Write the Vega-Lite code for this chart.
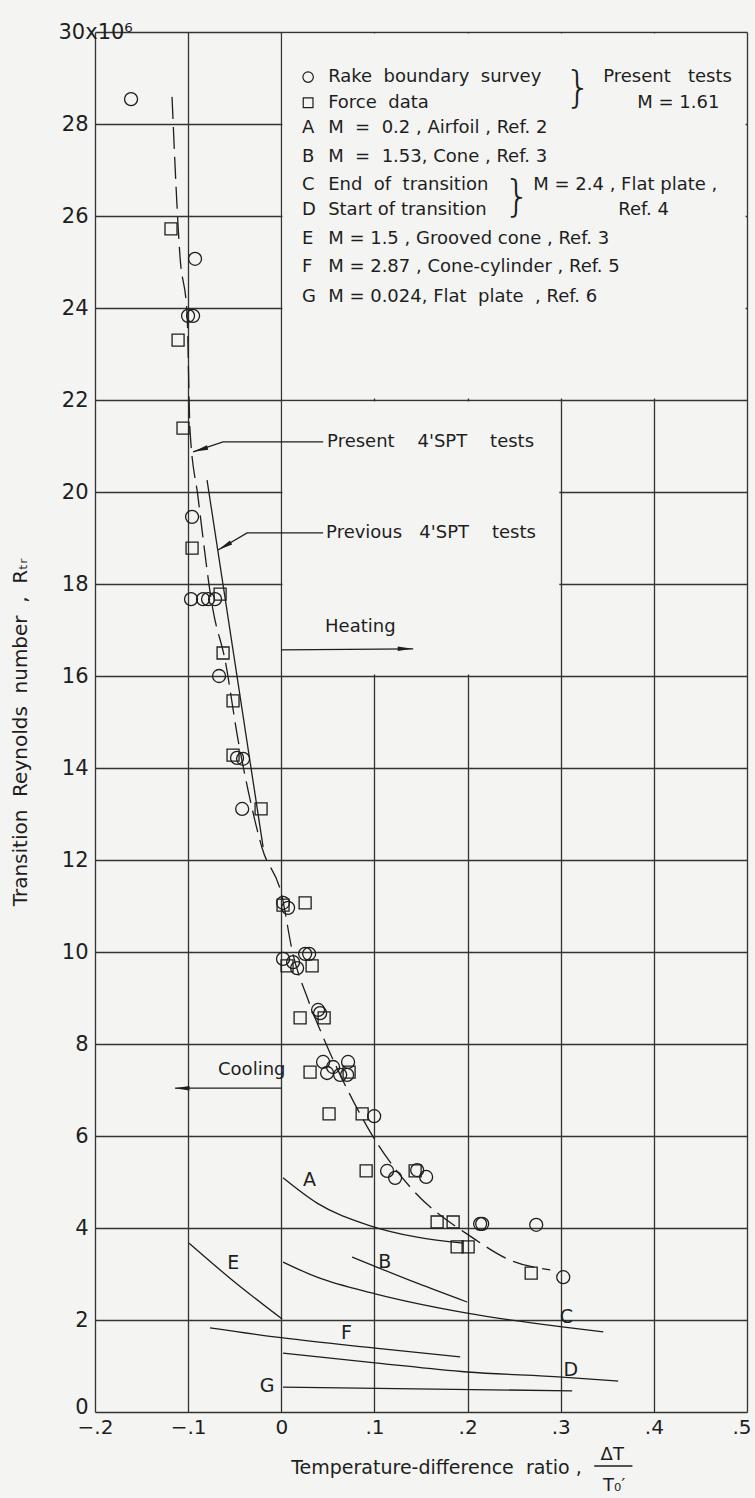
{
"$schema": "https://vega.github.io/schema/vega-lite/v6.json",
"width": 652,
"height": 1380,
"autosize": {"type": "none"},
"padding": {"left": 95, "top": 32, "right": 8, "bottom": 86},
"background": "#f4f4f2",
"config": {"view": {"stroke": null}, "font": "DejaVu Sans", "text": {"font": "DejaVu Sans", "color": "#1e1e1e"}},
"datasets": {
"masks": [
{"x": 0.0012, "x2": 0.4985, "y": 22.03, "y2": 29.97},
{"x": 0.0012, "x2": 0.2985, "y": 16.03, "y2": 21.97}
],
"curves": [
{"curve": "A", "x": 0.0019, "y": 5.09}, {"curve": "A", "x": 0.0384, "y": 4.54}, {"curve": "A", "x": 0.0922, "y": 4.07}, {"curve": "A", "x": 0.1459, "y": 3.8}, {"curve": "A", "x": 0.1953, "y": 3.67},
{"curve": "B", "x": 0.076, "y": 3.37}, {"curve": "B", "x": 0.1459, "y": 2.8}, {"curve": "B", "x": 0.1996, "y": 2.39},
{"curve": "C", "x": 0.0019, "y": 3.26}, {"curve": "C", "x": 0.0384, "y": 2.93}, {"curve": "C", "x": 0.1008, "y": 2.57}, {"curve": "C", "x": 0.1996, "y": 2.15}, {"curve": "C", "x": 0.3016, "y": 1.85}, {"curve": "C", "x": 0.3457, "y": 1.74},
{"curve": "D", "x": 0.0019, "y": 1.28}, {"curve": "D", "x": 0.1008, "y": 1.07}, {"curve": "D", "x": 0.1996, "y": 0.87}, {"curve": "D", "x": 0.3016, "y": 0.76}, {"curve": "D", "x": 0.3617, "y": 0.67},
{"curve": "E", "x": -0.099, "y": 3.67}, {"curve": "E", "x": -0.0528, "y": 2.87}, {"curve": "E", "x": 0.0009, "y": 2.02},
{"curve": "F", "x": -0.0765, "y": 1.83}, {"curve": "F", "x": 0.0019, "y": 1.61}, {"curve": "F", "x": 0.1008, "y": 1.39}, {"curve": "F", "x": 0.192, "y": 1.2},
{"curve": "G", "x": 0.0019, "y": 0.54}, {"curve": "G", "x": 0.3123, "y": 0.46}
],
"present": [
{"x": -0.1173, "y": 28.59}, {"x": -0.1087, "y": 25.11}, {"x": -0.1012, "y": 23.89}, {"x": -0.098, "y": 21.35}, {"x": -0.0894, "y": 19.89},
{"x": -0.0733, "y": 17.43}, {"x": -0.0604, "y": 16.35}, {"x": -0.0464, "y": 14.61}, {"x": -0.0357, "y": 13.52}, {"x": -0.0206, "y": 12.26},
{"x": 0.0009, "y": 11.2}, {"x": 0.0116, "y": 10.04}, {"x": 0.0288, "y": 8.96}, {"x": 0.0449, "y": 8.15}, {"x": 0.0707, "y": 7.02},
{"x": 0.1008, "y": 5.91}, {"x": 0.1384, "y": 4.89}, {"x": 0.206, "y": 3.78}, {"x": 0.2458, "y": 3.3}, {"x": 0.2887, "y": 3.09}
],
"previous": [
{"x": -0.0797, "y": 20.26}, {"x": -0.0195, "y": 12.28}
],
"leaders": [
{"id": "present", "x": -0.0947, "y": 20.87}, {"id": "present", "x": -0.0625, "y": 21.09}, {"id": "present", "x": 0.045, "y": 21.09},
{"id": "previous", "x": -0.0679, "y": 18.74}, {"id": "previous", "x": -0.0367, "y": 19.11}, {"id": "previous", "x": 0.0449, "y": 19.11},
{"id": "heating", "x": 0.0, "y": 16.57}, {"id": "heating", "x": 0.1416, "y": 16.59},
{"id": "cooling", "x": -0.114, "y": 7.04}, {"id": "cooling", "x": 0.0, "y": 7.04}
],
"squares": [
{"x": -0.1184, "y": 25.72}, {"x": -0.1108, "y": 23.3}, {"x": -0.1055, "y": 21.39}, {"x": -0.0958, "y": 18.78}, {"x": -0.0657, "y": 17.78},
{"x": -0.0625, "y": 16.5}, {"x": -0.0518, "y": 15.46}, {"x": -0.0518, "y": 14.28}, {"x": -0.0217, "y": 13.11}, {"x": 0.0019, "y": 11.02},
{"x": 0.0256, "y": 11.07}, {"x": 0.0062, "y": 9.7}, {"x": 0.0331, "y": 9.7}, {"x": 0.0202, "y": 8.57}, {"x": 0.046, "y": 8.57},
{"x": 0.0309, "y": 7.39}, {"x": 0.0728, "y": 7.39}, {"x": 0.0513, "y": 6.48}, {"x": 0.0868, "y": 6.48}, {"x": 0.0911, "y": 5.24},
{"x": 0.1437, "y": 5.24}, {"x": 0.1673, "y": 4.13}, {"x": 0.1845, "y": 4.13}, {"x": 0.1888, "y": 3.59}, {"x": 0.2006, "y": 3.59},
{"x": 0.2683, "y": 3.02}
],
"circles": [
{"x": -0.1613, "y": 28.54}, {"x": -0.0926, "y": 25.07}, {"x": -0.1001, "y": 23.83}, {"x": -0.0947, "y": 23.83}, {"x": -0.0958, "y": 19.46},
{"x": -0.0969, "y": 17.67}, {"x": -0.084, "y": 17.67}, {"x": -0.0786, "y": 17.67}, {"x": -0.0711, "y": 17.67}, {"x": -0.0668, "y": 16.0},
{"x": -0.0475, "y": 14.22}, {"x": -0.041, "y": 14.2}, {"x": -0.042, "y": 13.11}, {"x": 0.0019, "y": 11.07}, {"x": 0.0073, "y": 10.96},
{"x": 0.0019, "y": 9.85}, {"x": 0.0127, "y": 9.78}, {"x": 0.017, "y": 9.65}, {"x": 0.0256, "y": 9.96}, {"x": 0.0299, "y": 9.96},
{"x": 0.0395, "y": 8.74}, {"x": 0.0417, "y": 8.67}, {"x": 0.0449, "y": 7.61}, {"x": 0.0556, "y": 7.5}, {"x": 0.0717, "y": 7.61},
{"x": 0.0492, "y": 7.37}, {"x": 0.0632, "y": 7.33}, {"x": 0.0707, "y": 7.33}, {"x": 0.0997, "y": 6.43}, {"x": 0.1136, "y": 5.24},
{"x": 0.1222, "y": 5.09}, {"x": 0.1459, "y": 5.26}, {"x": 0.1555, "y": 5.11}, {"x": 0.2135, "y": 4.09}, {"x": 0.2157, "y": 4.09},
{"x": 0.2737, "y": 4.07}, {"x": 0.3027, "y": 2.93}
],
"legendCircle": [{"x": 0.0288, "y": 29.02}],
"legendSquare": [{"x": 0.0288, "y": 28.46}],
"texts": [
{"x": 0.0503, "y": 29.02, "text": "Rake\u00a0 boundary\u00a0 survey"},
{"x": 0.0503, "y": 28.46, "text": "Force\u00a0 data"},
{"x": 0.0223, "y": 27.91, "text": "A"},
{"x": 0.0503, "y": 27.91, "text": "M\u00a0 =\u00a0 0.2 , Airfoil , Ref. 2"},
{"x": 0.0223, "y": 27.28, "text": "B"},
{"x": 0.0503, "y": 27.28, "text": "M\u00a0 =\u00a0 1.53, Cone , Ref. 3"},
{"x": 0.0223, "y": 26.67, "text": "C"},
{"x": 0.0503, "y": 26.67, "text": "End\u00a0 of\u00a0 transition"},
{"x": 0.0223, "y": 26.13, "text": "D"},
{"x": 0.0503, "y": 26.13, "text": "Start of transition"},
{"x": 0.0223, "y": 25.5, "text": "E"},
{"x": 0.0503, "y": 25.5, "text": "M = 1.5 , Grooved cone , Ref. 3"},
{"x": 0.0223, "y": 24.89, "text": "F"},
{"x": 0.0503, "y": 24.89, "text": "M = 2.87 , Cone-cylinder , Ref. 5"},
{"x": 0.0223, "y": 24.24, "text": "G"},
{"x": 0.0503, "y": 24.24, "text": "M = 0.024, Flat\u00a0 plate\u00a0 , Ref. 6"},
{"x": 0.3456, "y": 29.02, "text": "Present\u00a0\u00a0 tests"},
{"x": 0.3822, "y": 28.46, "text": "M = 1.61"},
{"x": 0.2705, "y": 26.67, "text": "M = 2.4 , Flat plate ,"},
{"x": 0.3618, "y": 26.13, "text": "Ref. 4"},
{"x": 0.0492, "y": 21.09, "text": "Present\u00a0\u00a0\u00a0 4'SPT\u00a0\u00a0\u00a0 tests"},
{"x": 0.0481, "y": 19.11, "text": "Previous\u00a0\u00a0 4'SPT\u00a0\u00a0\u00a0 tests"},
{"x": 0.047, "y": 17.07, "text": "Heating"},
{"x": -0.0679, "y": 7.43, "text": "Cooling"}
],
"brackets": [
{"x": 0.3188, "y": 28.76, "text": "}"},
{"x": 0.2533, "y": 26.39, "text": "}"}
],
"letters": [
{"x": 0.0234, "y": 5.04, "text": "A"},
{"x": 0.104, "y": 3.26, "text": "B"},
{"x": 0.299, "y": 2.07, "text": "C"},
{"x": 0.303, "y": 0.91, "text": "D"},
{"x": -0.058, "y": 3.24, "text": "E"},
{"x": 0.064, "y": 1.72, "text": "F"},
{"x": -0.023, "y": 0.57, "text": "G"}
],
"fracText": [
{"x": 0.3553, "y": -0.935, "text": "ΔT"},
{"x": 0.3573, "y": -1.6, "text": "T₀′"}
],
"fracLine": [{"x": 0.336, "x2": 0.377, "y": -1.174}]
},
"layer": [
{"data": {"name": "masks"}, "mark": {"type": "rect", "color": "#f4f4f2"},
 "encoding": {
  "x": {"field": "x", "type": "quantitative",
   "scale": {"domain": [-0.2, 0.5], "nice": false, "zero": false},
   "axis": {"values": [-0.2, -0.1, 0, 0.1, 0.2, 0.3, 0.4, 0.5], "grid": true, "gridColor": "#333333", "gridWidth": 1.3, "gridOpacity": 1,
    "domain": false, "ticks": false, "labelPadding": 5, "labelFontSize": 20, "labelFont": "DejaVu Sans", "labelColor": "#1e1e1e", "labelFlush": false,
    "labelAlign": {"condition": {"test": "datum.value == 0.5", "value": "right"}, "value": "center"},
    "labelOffset": {"condition": {"test": "datum.value == 0.5", "value": 4}, "value": 0},
    "labelExpr": "datum.value == 0 ? '0' : replace(format(datum.value, '.1f'), '0.', '.')",
    "title": "Temperature-difference\u00a0 ratio ,", "titleFont": "DejaVu Sans", "titleFontSize": 19, "titleFontWeight": "normal", "titleColor": "#1e1e1e",
    "titleX": 341, "titleY": 61, "titleBaseline": "alphabetic", "titleAlign": "center"}},
  "x2": {"field": "x2"},
  "y": {"field": "y", "type": "quantitative",
   "scale": {"domain": [0, 30], "nice": false, "zero": false},
   "axis": {"values": [0, 2, 4, 6, 8, 10, 12, 14, 16, 18, 20, 22, 24, 26, 28, 30], "grid": true, "gridColor": "#333333", "gridWidth": 1.3, "gridOpacity": 1,
    "domain": false, "ticks": false, "labelFontSize": 21, "labelFont": "DejaVu Sans", "labelColor": "#1e1e1e", "labelFlush": false,
    "labelAlign": {"condition": {"test": "datum.value == 30", "value": "left"}, "value": "right"},
    "labelPadding": {"condition": {"test": "datum.value == 30", "value": 37}, "value": 7},
    "labelOffset": {"condition": {"test": "datum.value == 0", "value": -5}, "value": 0},
    "labelExpr": "datum.value == 30 ? '30x10⁶' : datum.label",
    "title": "Transition\u00a0 Reynolds\u00a0 number\u00a0 ,\u00a0 Rₜᵣ", "titleFont": "DejaVu Sans", "titleFontSize": 20, "titleFontWeight": "normal", "titleColor": "#1e1e1e",
    "titleX": -75, "titleY": 700, "titleBaseline": "middle", "titleAlign": "center", "titleAngle": 270}},
  "y2": {"field": "y2"}}},
{"data": {"name": "curves"}, "mark": {"type": "line", "color": "#1e1e1e", "strokeWidth": 1.3, "interpolate": "monotone"},
 "encoding": {"x": {"field": "x", "type": "quantitative"}, "y": {"field": "y", "type": "quantitative"}, "detail": {"field": "curve"}}},
{"data": {"name": "present"}, "mark": {"type": "line", "color": "#1e1e1e", "strokeWidth": 1.3, "strokeDash": [22, 8], "interpolate": "monotone"},
 "encoding": {"x": {"field": "x", "type": "quantitative"}, "y": {"field": "y", "type": "quantitative"}}},
{"data": {"name": "previous"}, "mark": {"type": "line", "color": "#1e1e1e", "strokeWidth": 1.3},
 "encoding": {"x": {"field": "x", "type": "quantitative"}, "y": {"field": "y", "type": "quantitative"}}},
{"data": {"name": "leaders"}, "mark": {"type": "line", "color": "#1e1e1e", "strokeWidth": 1.3},
 "encoding": {"x": {"field": "x", "type": "quantitative"}, "y": {"field": "y", "type": "quantitative"}, "detail": {"field": "id"}}},
{"data": {"values": [{"x": -0.0868, "y": 20.92}]}, "mark": {"type": "point", "shape": "M-1,0L1,-0.3L1,0.3Z", "filled": true, "color": "#1e1e1e", "size": 225, "angle": -17, "opacity": 1},
 "encoding": {"x": {"field": "x", "type": "quantitative"}, "y": {"field": "y", "type": "quantitative"}}},
{"data": {"values": [{"x": -0.0609, "y": 18.82}]}, "mark": {"type": "point", "shape": "M-1,0L1,-0.3L1,0.3Z", "filled": true, "color": "#1e1e1e", "size": 225, "angle": -30, "opacity": 1},
 "encoding": {"x": {"field": "x", "type": "quantitative"}, "y": {"field": "y", "type": "quantitative"}}},
{"data": {"values": [{"x": 0.133, "y": 16.59}]}, "mark": {"type": "point", "shape": "M-1,0L1,-0.3L1,0.3Z", "filled": true, "color": "#1e1e1e", "size": 225, "angle": 180, "opacity": 1},
 "encoding": {"x": {"field": "x", "type": "quantitative"}, "y": {"field": "y", "type": "quantitative"}}},
{"data": {"values": [{"x": -0.1066, "y": 7.04}]}, "mark": {"type": "point", "shape": "M-1,0L1,-0.3L1,0.3Z", "filled": true, "color": "#1e1e1e", "size": 225, "angle": 0, "opacity": 1},
 "encoding": {"x": {"field": "x", "type": "quantitative"}, "y": {"field": "y", "type": "quantitative"}}},
{"data": {"name": "circles"}, "mark": {"type": "point", "shape": "circle", "filled": false, "color": "#1e1e1e", "size": 169, "strokeWidth": 1.3, "opacity": 1},
 "encoding": {"x": {"field": "x", "type": "quantitative"}, "y": {"field": "y", "type": "quantitative"}}},
{"data": {"name": "squares"}, "mark": {"type": "point", "shape": "square", "filled": false, "color": "#1e1e1e", "size": 144, "strokeWidth": 1.3, "opacity": 1},
 "encoding": {"x": {"field": "x", "type": "quantitative"}, "y": {"field": "y", "type": "quantitative"}}},
{"data": {"name": "legendCircle"}, "mark": {"type": "point", "shape": "circle", "filled": false, "color": "#1e1e1e", "size": 110, "strokeWidth": 1.2, "opacity": 1},
 "encoding": {"x": {"field": "x", "type": "quantitative"}, "y": {"field": "y", "type": "quantitative"}}},
{"data": {"name": "legendSquare"}, "mark": {"type": "point", "shape": "square", "filled": false, "color": "#1e1e1e", "size": 95, "strokeWidth": 1.2, "opacity": 1},
 "encoding": {"x": {"field": "x", "type": "quantitative"}, "y": {"field": "y", "type": "quantitative"}}},
{"data": {"name": "texts"}, "mark": {"type": "text", "align": "left", "baseline": "middle", "fontSize": 18},
 "encoding": {"x": {"field": "x", "type": "quantitative"}, "y": {"field": "y", "type": "quantitative"}, "text": {"field": "text"}}},
{"data": {"name": "brackets"}, "mark": {"type": "text", "align": "center", "baseline": "middle", "fontSize": 42, "fontWeight": 200},
 "encoding": {"x": {"field": "x", "type": "quantitative"}, "y": {"field": "y", "type": "quantitative"}, "text": {"field": "text"}}},
{"data": {"name": "letters"}, "mark": {"type": "text", "align": "left", "baseline": "middle", "fontSize": 19},
 "encoding": {"x": {"field": "x", "type": "quantitative"}, "y": {"field": "y", "type": "quantitative"}, "text": {"field": "text"}}},
{"data": {"name": "fracText"}, "mark": {"type": "text", "align": "center", "baseline": "middle", "fontSize": 18},
 "encoding": {"x": {"field": "x", "type": "quantitative"}, "y": {"field": "y", "type": "quantitative"}, "text": {"field": "text"}}},
{"data": {"name": "fracLine"}, "mark": {"type": "rule", "color": "#1e1e1e", "strokeWidth": 1.3},
 "encoding": {"x": {"field": "x", "type": "quantitative"}, "x2": {"field": "x2"}, "y": {"field": "y", "type": "quantitative"}}}
]
}
